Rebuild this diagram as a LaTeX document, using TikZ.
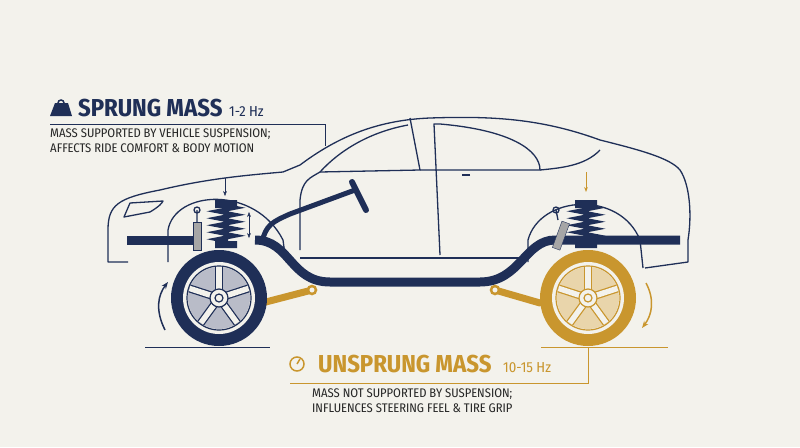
\documentclass[tikz,border=0pt]{standalone}
\usepackage{fontspec}
\setmainfont{Fira Sans}
\newfontfamily\cond{Fira Sans Condensed}[Scale=1]
\usetikzlibrary{arrows.meta,decorations.pathmorphing}
\definecolor{navy}{HTML}{1F2F57}
\definecolor{gold}{HTML}{C9962E}
\definecolor{paper}{HTML}{F3F2EC}
\definecolor{rimgray}{HTML}{B9BCC8}
\tikzset{
  body/.style={navy, line width=1.3pt, line join=round},
  frame/.style={navy, line width=9pt, line cap=butt},
  title/.style={anchor=base west, inner sep=0pt, font=\bfseries\fontsize{24.5}{26}\selectfont},
  hz/.style={anchor=base west, inner sep=0pt, font=\fontsize{14.5}{16}\selectfont},
  note/.style={anchor=north west, inner sep=0pt, align=left, text=black!85, font=\fontsize{12.5}{15}\selectfont},
  spring/.style={decorate, decoration={zigzag, segment length=7pt, amplitude=9pt}, line width=4pt},
}
\begin{document}
\begin{tikzpicture}[x=1pt, y=-1pt]
\useasboundingbox[fill=paper] (0,0) rectangle (800,447);
% car body
\draw[body] (128,262) -- (108,262) -- (108,230) .. controls (108,205) and (118,198) .. (160,190)
  .. controls (210,178) and (250,175) .. (283,172) -- (300,165)
  .. controls (340,135) and (380,120) .. (430,118) .. controls (490,116) and (540,118) .. (600,140)
  .. controls (640,150) and (670,158) .. (680,170) .. controls (690,185) and (692,215) .. (688,240)
  -- (688,262) -- (645,268);
\draw[body] (124,217) -- (150,212) .. controls (160,206) and (162,203) .. (163,201) -- (130,203) -- (124,217) -- cycle;
% wheel arches
\draw[body] (168,262) -- (168,230) .. controls (175,190) and (255,185) .. (283,240) -- (286,262);
\draw[body] (528,262) -- (528,240) .. controls (540,195) and (620,190) .. (640,240) -- (643,268);
% cabin
\draw[body] (300,250) -- (300,200) .. controls (302,180) and (310,178) .. (320,172) -- (420,170) -- (410,118);
\draw[body] (320,172) .. controls (340,150) and (370,132) .. (408,125);
\draw[body] (420,170) -- (540,170) .. controls (540,150) and (510,130) .. (440,124) -- (434,124) -- (440,255);
\draw[body] (300,258) -- (520,258);
\draw[body] (540,170) .. controls (560,168) and (585,166) .. (600,150);
\draw[body] (470,175) -- (462,175);
% frame
\draw[frame] (127,240) -- (195,240);
\draw[frame] (255,240) .. controls (290,240) and (290,282) .. (330,282) -- (480,282)
  .. controls (520,282) and (525,240) .. (555,240) -- (680,240);
% steering column
\draw[navy, line width=5pt, line cap=round] (262,242) .. controls (266,225) and (272,222) .. (290,214) -- (355,190);
\draw[navy, line width=6pt, line cap=round] (352,182) -- (366,210);
% control arms
\draw[gold, line width=7pt, line cap=round] (262,303) -- (312,290);
\draw[gold, line width=7pt, line cap=round] (495,290) -- (540,303);
\foreach \cx in {312,495} \filldraw[gold, fill=paper, line width=2.5pt] (\cx,290) circle (4pt);
% springs and dampers
\draw[navy, spring] (226,206) -- (226,244);
\draw[navy, spring] (586,206) -- (586,244);
\fill[navy] (215,200) rectangle (237,208) (215,241) rectangle (237,248);
\fill[navy] (575,200) rectangle (597,208) (575,241) rectangle (597,248);
\filldraw[navy, fill=gray!70] (193,222) rectangle (201,250);
\draw[navy, line width=1.3pt] (197,222) -- (197,210) circle (3pt);
\filldraw[navy, fill=gray!70, rotate around={-20:(563,230)}] (559,222) rectangle (567,250);
\draw[navy, line width=1.3pt] (558,220) -- (556,210) circle (3pt);
% small arrows
\draw[navy, -{Stealth[length=5pt]}] (225,178) -- (225,196);
\draw[navy, {Stealth[length=5pt]}-{Stealth[length=5pt]}] (249,212) -- (249,238);
\draw[gold, line width=1pt, -{Stealth[length=5pt]}] (586,172) -- (586,192);
% wheels
\fill[navy] (219,298) circle (48pt);
\fill[paper] (219,298) circle (36pt);
\fill[rimgray] (219,298) circle (31pt);
\fill[gold] (588,298) circle (48pt);
\fill[paper] (588,298) circle (36pt);
\fill[gold!40] (588,298) circle (31pt);
\foreach \wx/\wc in {219/navy, 588/gold}{
  \foreach \a in {90,162,...,450}{
    \draw[\wc, line width=8pt] (\wx,298) -- ++(\a:31pt);
    \draw[paper, line width=5.5pt] (\wx,298) -- ++(\a:31pt);
  }
  \draw[\wc, line width=1.2pt, fill=paper] (\wx,298) circle (9pt);
  \draw[\wc, line width=1.2pt] (\wx,298) circle (4pt);
  \draw[\wc, line width=1.2pt] (\wx,298) circle (32pt);
}
% rotation arrows
\draw[navy, line width=1.5pt, -{Stealth[length=7pt]}] (165,330) .. controls (155,310) and (158,295) .. (168,282);
\draw[gold, line width=1.5pt, -{Stealth[length=7pt]}] (646,283) .. controls (655,300) and (652,315) .. (642,328);
% ground lines
\draw[navy, line width=1pt] (145,347) -- (270,347);
\draw[gold, line width=1pt] (541,347) -- (668,347) (588,347) -- (588,383) -- (290,383);
\draw[navy, line width=1pt] (50,124) -- (325,124) -- (325,146);
% labels
\fill[navy] (50,116) -- (55,103) -- (68,103) -- (72,116) -- cycle;
\draw[navy, line width=1.5pt] (61,103) circle (3pt);
\node[title, text=navy] (sprung) at (78,116) {\cond SPRUNG MASS};
\node[hz, text=navy] (sprunghz) at (229,116) {\cond 1-2 Hz};
\node[note] (sprungnote) at (50,129) {\cond MASS SUPPORTED BY VEHICLE SUSPENSION;\\\cond AFFECTS RIDE COMFORT \& BODY MOTION};
\draw[gold, line width=1.5pt] (297,364) circle (7pt);
\draw[gold, line width=1.5pt] (297,364) -- (300,359);
\node[title, text=gold] (unsprung) at (318,372) {\cond UNSPRUNG MASS};
\node[hz, text=gold] (unsprunghz) at (503,372) {\cond 10-15 Hz};
\node[note] (unsprungnote) at (312,389) {\cond MASS NOT SUPPORTED BY SUSPENSION;\\\cond INFLUENCES STEERING FEEL \& TIRE GRIP};
\end{tikzpicture}
\end{document}
